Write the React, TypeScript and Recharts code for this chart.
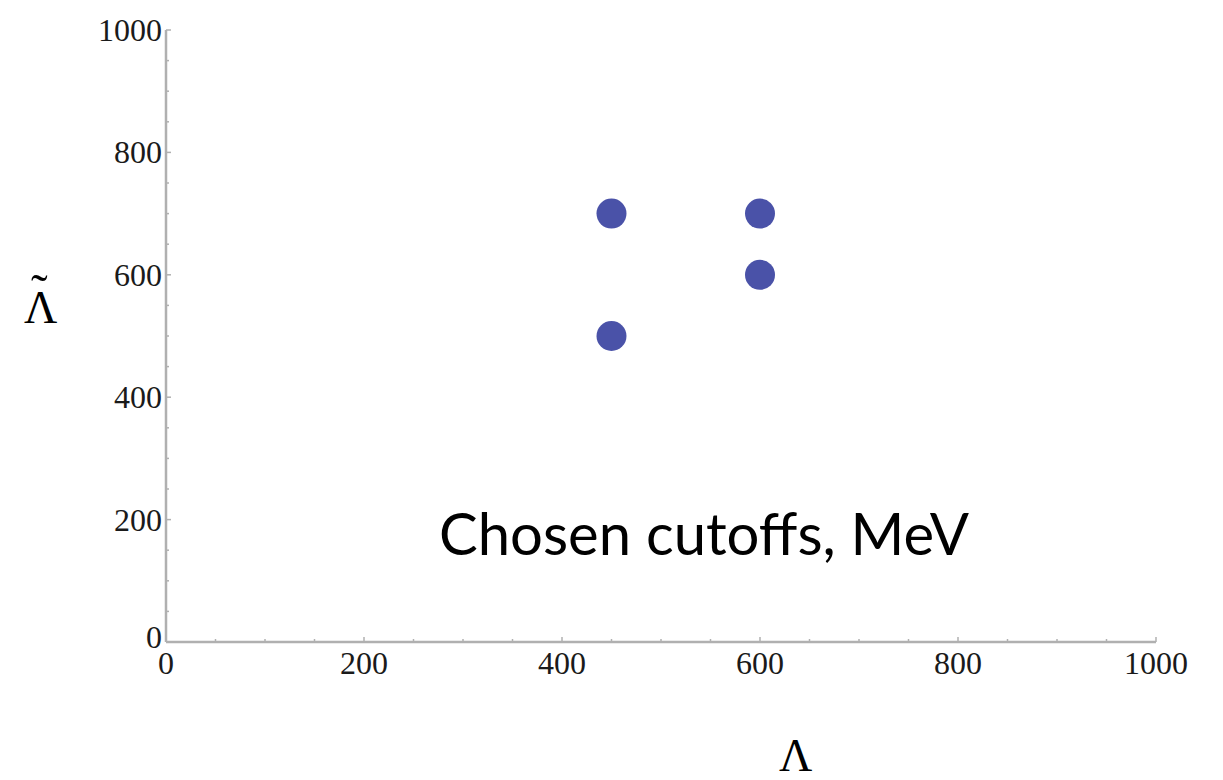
import { ScatterChart, Scatter, XAxis, YAxis } from "recharts";

document.body.style.margin = "0";

// chosen cutoffs (MeV)
const lambda = [450, 600, 600, 450];
const lambdaTilde = [700, 700, 600, 500];
const points = lambda.map((x, i) => ({ x, y: lambdaTilde[i] }));

const axisTicks = [0, 50, 100, 150, 200, 250, 300, 350, 400, 450, 500, 550, 600, 650, 700, 750, 800, 850, 900, 950, 1000];
const labelTicks = [0, 200, 400, 600, 800, 1000];

const axisGray = "#b0b0b0";
const tickFont = "'Liberation Serif', 'Times New Roman', serif";

function YTick({ x, y, payload }: any) {
  const major = labelTicks.includes(payload.value);
  return (
    <g>
      <line x1={x} x2={x + (major ? 5 : 3)} y1={y} y2={y} stroke={axisGray} strokeWidth={1.5} />
      {major && (
        <text x={x - 4} y={payload.value === 0 ? y - 5 : y} textAnchor="end" dominantBaseline="central"
          fontFamily={tickFont} fontSize={32} fill="#1a1a1a">
          {payload.value}
        </text>
      )}
    </g>
  );
}

function XTick({ x, y, payload }: any) {
  const major = labelTicks.includes(payload.value);
  return (
    <g>
      <line x1={x} x2={x} y1={y} y2={y - (major ? 5 : 3)} stroke={axisGray} strokeWidth={1.5} />
      {major && (
        <text x={x} y={y + 21} textAnchor="middle" dominantBaseline="central"
          fontFamily={tickFont} fontSize={32} fill="#1a1a1a">
          {payload.value}
        </text>
      )}
    </g>
  );
}

export default function App() {
  return (
    <div style={{ position: "relative", width: 1223, height: 780, background: "#fff", overflow: "hidden" }}>
      <ScatterChart width={1223} height={780} margin={{ top: 30, right: 67, bottom: 98, left: 106 }}>
        <XAxis type="number" dataKey="x" domain={[0, 1000]} ticks={axisTicks} interval={0}
          tickSize={0} tickMargin={0} height={40} tick={<XTick />}
          axisLine={{ stroke: axisGray, strokeWidth: 2.5 }} />
        <YAxis type="number" dataKey="y" domain={[0, 1000]} ticks={axisTicks} interval={0}
          tickSize={0} tickMargin={0} width={60} tick={<YTick />}
          axisLine={{ stroke: axisGray, strokeWidth: 2.5 }} />
        <Scatter data={points} isAnimationActive={false}
          shape={(p: any) => <circle cx={p.cx} cy={p.cy} r={15} fill="#4a52a8" />} />
      </ScatterChart>
      <div style={{ position: "absolute", left: 439, top: 493, fontFamily: "Lato, 'Open Sans', sans-serif",
        fontSize: 58, lineHeight: "80px", color: "#000", whiteSpace: "nowrap" }}>
        Chosen cutoffs, MeV
      </div>
      <div style={{ position: "absolute", left: 24, top: 278, fontFamily: tickFont, fontSize: 46,
        lineHeight: "60px", color: "#000" }}>
        Λ
        <span style={{ position: "absolute", left: 7, top: -16, fontSize: 50 }}>˜</span>
      </div>
      <div style={{ position: "absolute", left: 779, top: 736, fontFamily: tickFont, fontSize: 46,
        lineHeight: "40px", color: "#000" }}>
        Λ
      </div>
    </div>
  );
}
